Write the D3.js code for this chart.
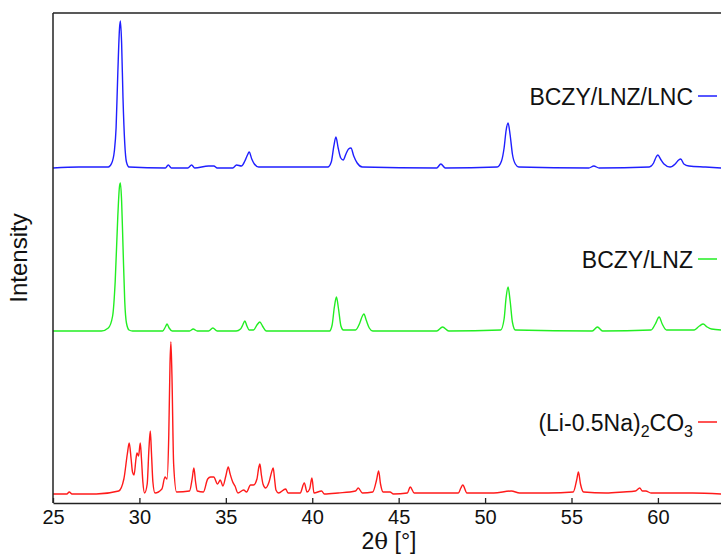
<!DOCTYPE html>
<html>
<head>
<meta charset="utf-8">
<script src="https://cdn.jsdelivr.net/npm/d3@7"></script>
<style>
  body { margin: 0; background: #fff; }
  svg text { font-family: "Liberation Sans", Arial, sans-serif; fill: #111; }
</style>
</head>
<body>
<svg id="chart" width="721" height="555"></svg>
<script>
// XRD patterns, 2theta in degrees, intensity (a.u.) above each trace's own baseline

var xTicks = [25, 30, 35, 40, 45, 50, 55, 60];

var seriesNames = ['BCZY/LNZ/LNC', 'BCZY/LNZ', '(Li-0.5Na)2CO3'];
var seriesColors = ['#1f1fff', '#22ee22', '#ff1a1a'];
var seriesOffsets = [3350, 1720, 90];

var bczyLnzLnc = [
    [25.0, 0], [26.5, 1], [28.2, 1], [28.4, 5], [28.55, 17], [28.65, 40], [28.75, 95],
    [28.85, 140], [28.9, 147], [28.97, 125], [29.05, 70], [29.15, 25], [29.25, 6], [29.4, 1],
    [31.5, 0], [31.67, 3], [31.85, 0], [32.8, 0], [33.02, 3], [33.2, 0], [34.0, 2], [34.31, 2],
    [34.5, 0], [35.4, 0], [35.62, 3], [35.9, 2], [36.1, 7], [36.25, 13], [36.35, 16], [36.5, 9],
    [36.65, 4], [36.9, 1], [40.9, 1], [41.1, 6], [41.25, 22], [41.37, 31], [41.5, 20],
    [41.65, 10], [41.79, 8], [41.95, 14], [42.1, 19], [42.24, 20], [42.4, 12], [42.6, 5],
    [42.9, 1], [47.2, 0], [47.44, 4], [47.7, 0], [50.7, 1], [50.95, 7], [51.1, 20], [51.22, 38],
    [51.33, 45], [51.45, 33], [51.58, 14], [51.75, 4], [51.95, 1], [56.0, 0], [56.29, 2],
    [56.6, 0], [59.5, 1], [59.75, 5], [59.9, 11], [60.0, 13], [60.15, 9], [60.35, 4], [60.7, 1],
    [61.0, 4], [61.2, 8], [61.32, 9], [61.5, 4], [61.8, 2], [62.75, 1], [63.7, 0]
];

var bczyLnz = [
    [25.0, 0], [26.0, 0], [27.8, 0], [28.2, 3], [28.45, 15], [28.6, 50], [28.75, 115],
    [28.85, 145], [28.9, 148], [28.97, 130], [29.05, 85], [29.15, 30], [29.25, 8], [29.4, 1],
    [29.6, 0], [31.35, 0], [31.5, 4], [31.6, 7], [31.72, 3], [31.9, 0], [32.9, 0], [33.11, 2],
    [33.35, 0], [34.0, 0], [34.25, 3], [34.5, 0], [35.6, 0], [35.85, 2], [35.98, 6], [36.1, 10],
    [36.22, 5], [36.35, 1], [36.6, 1], [36.8, 6], [36.97, 9], [37.12, 5], [37.35, 0], [41.0, 0],
    [41.15, 6], [41.28, 24], [41.4, 34], [41.52, 22], [41.66, 5], [41.8, 1], [42.5, 1],
    [42.75, 8], [42.9, 15], [42.99, 17], [43.12, 11], [43.3, 3], [43.5, 0], [47.2, 0],
    [47.54, 4], [47.9, 0], [50.9, 1], [51.1, 12], [51.22, 34], [51.33, 44], [51.45, 30],
    [51.58, 9], [51.75, 1], [56.2, 0], [56.5, 4], [56.8, 0], [59.6, 1], [59.85, 7], [60.07, 14],
    [60.25, 7], [60.5, 1], [62.1, 1], [62.4, 5], [62.62, 7], [62.85, 4], [63.1, 2], [63.7, 1]
];

var liNaCarbonate = [
    [25.0, 0], [25.8, 0], [25.94, 2], [26.1, 0], [27.5, 0], [28.8, 3], [29.1, 15], [29.3, 40],
    [29.41, 51], [29.52, 35], [29.6, 22], [29.69, 19], [29.8, 35], [29.86, 41], [29.95, 38],
    [30.05, 51], [30.12, 35], [30.2, 12], [30.3, 1], [30.45, 10], [30.55, 45], [30.63, 63],
    [30.7, 40], [30.78, 12], [30.9, 1], [31.3, 5], [31.48, 17], [31.6, 15], [31.7, 60],
    [31.77, 130], [31.82, 152], [31.88, 120], [31.98, 30], [32.15, 2], [32.9, 3], [33.05, 15],
    [33.15, 26], [33.25, 12], [33.35, 3], [33.7, 2], [33.95, 15], [34.12, 17], [34.3, 17],
    [34.52, 10], [34.68, 14], [34.83, 8], [35.0, 18], [35.14, 27], [35.25, 20], [35.4, 12],
    [35.53, 8], [35.7, 1], [36.03, 4], [36.2, 2], [36.43, 9], [36.6, 9], [36.8, 15], [36.9, 26],
    [36.97, 30], [37.05, 20], [37.15, 10], [37.3, 6], [37.5, 12], [37.65, 22], [37.74, 26],
    [37.82, 15], [37.9, 4], [38.05, 1], [38.46, 5], [38.6, 1], [39.3, 1], [39.54, 11], [39.7, 2],
    [39.85, 5], [39.98, 16], [40.1, 1], [40.54, 3], [40.7, 0], [41.5, 1], [42.5, 3], [42.66, 6],
    [42.9, 1], [43.5, 2], [43.72, 14], [43.84, 23], [43.95, 10], [44.1, 2], [44.5, 2], [44.7, 0],
    [45.5, 1], [45.67, 7], [45.9, 1], [47.0, 1], [48.45, 1], [48.6, 6], [48.71, 9], [48.95, 1],
    [50.5, 1], [51.52, 3], [52.0, 1], [53.65, 1], [55.1, 2], [55.3, 14], [55.4, 22], [55.52, 10],
    [55.7, 2], [57.0, 1], [58.0, 2], [58.7, 3], [58.95, 6], [59.1, 3], [59.3, 3], [59.6, 1],
    [60.5, 1], [62.0, 1], [63.7, 0]
];

var seriesData = [bczyLnzLnc, bczyLnz, liNaCarbonate];

var svg = d3.select('#chart');

var plotLeft = 53, plotTop = 13, plotBottom = 503, plotRight = 721;

var x = d3.scaleLinear().domain([25, 63.65]).range([plotLeft, plotRight]);
var y = d3.scaleLinear().domain([0, 4900]).range([plotBottom, plotTop]);

svg.append('defs').append('clipPath').attr('id', 'plotclip')
    .append('rect')
    .attr('x', plotLeft).attr('y', plotTop)
    .attr('width', plotRight - plotLeft).attr('height', plotBottom - plotTop);

var traces = svg.append('g').attr('clip-path', 'url(#plotclip)');

var line = d3.line()
    .x(function (d) { return x(d[0]); })
    .curve(d3.curveMonotoneX);

seriesData.forEach(function (data, i) {
    line.y(function (d) { return y(d[1] * 10 + seriesOffsets[i]); });
    traces.append('path')
        .datum(data)
        .attr('d', line)
        .attr('fill', 'none')
        .attr('stroke', seriesColors[i])
        .attr('stroke-width', 1.4)
        .attr('stroke-linejoin', 'round');
});

// frame: left and top border (right side runs off the picture)
svg.append('line')
    .attr('x1', plotLeft).attr('x2', plotLeft).attr('y1', plotTop).attr('y2', plotBottom)
    .attr('stroke', '#222').attr('stroke-width', 1.5);
svg.append('line')
    .attr('x1', plotLeft).attr('x2', plotRight).attr('y1', plotTop).attr('y2', plotTop)
    .attr('stroke', '#222').attr('stroke-width', 1.5);

var xAxis = d3.axisBottom(x)
    .tickValues(xTicks)
    .tickSizeInner(-5)
    .tickSizeOuter(0)
    .tickPadding(7);

var gx = svg.append('g')
    .attr('transform', 'translate(0,' + plotBottom + ')')
    .call(xAxis);
gx.select('.domain').attr('stroke', '#222').attr('stroke-width', 1.5);
gx.selectAll('.tick line').attr('stroke', '#222').attr('stroke-width', 1.3);
gx.selectAll('.tick text')
    .style('font-family', '"Liberation Sans", Arial, sans-serif')
    .style('font-size', '20px')
    .attr('fill', '#111');

// axis titles
var xt = svg.append('text')
    .attr('x', 389).attr('y', 549)
    .attr('text-anchor', 'middle')
    .style('font-size', '23px');
xt.append('tspan').text('2');
xt.append('tspan').style('font-family', '"DejaVu Serif", "Liberation Serif", serif').text('\u03b8');
xt.append('tspan').text(' [\u00b0]');

svg.append('text')
    .attr('transform', 'translate(27,258) rotate(-90)')
    .attr('text-anchor', 'middle')
    .style('font-size', '24px')
    .text('Intensity');

// labels sit right of the plot, next to each trace
var labelGap = 720;
seriesNames.forEach(function (name, i) {
    var ly = y(seriesOffsets[i] + labelGap);
    var t = svg.append('text')
        .attr('x', 693).attr('y', ly + 9)
        .attr('text-anchor', 'end')
        .style('font-size', '23px');
    if (name === '(Li-0.5Na)2CO3') {
        t.append('tspan').text('(Li-0.5Na)');
        t.append('tspan').attr('dy', 6).style('font-size', '16px').text('2');
        t.append('tspan').attr('dy', -6).text('CO');
        t.append('tspan').attr('dy', 6).style('font-size', '16px').text('3');
    } else {
        t.text(name);
    }
    svg.append('line')
        .attr('x1', 698).attr('x2', 717)
        .attr('y1', ly).attr('y2', ly)
        .attr('stroke', seriesColors[i])
        .attr('stroke-width', 1.5);
});
</script>
</body>
</html>
